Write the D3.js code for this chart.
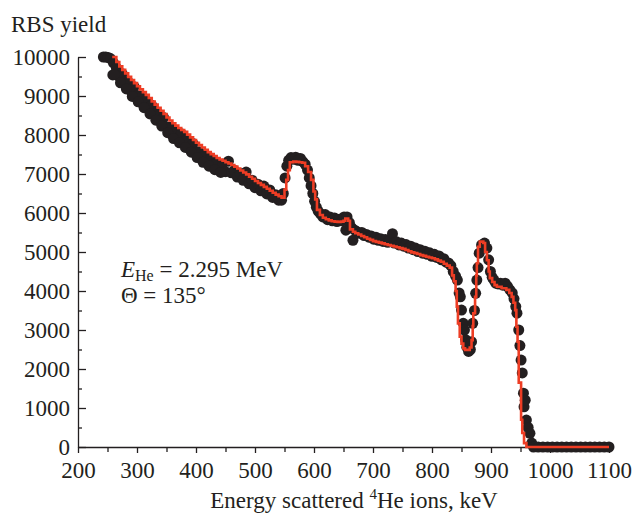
<!DOCTYPE html>
<html>
<head>
<meta charset="utf-8">
<title>RBS spectrum</title>
<script src="https://d3js.org/d3.v7.min.js"></script>
<style>
  body { margin: 0; background: #fff; }
  text { font-family: "Liberation Serif", "Times New Roman", serif; fill: #231f20; }
</style>
</head>
<body>
<svg width="635" height="514"></svg>
<script>
// tick values
var xTicks = [200, 300, 400, 500, 600, 700, 800, 900, 1000, 1100];
var xMinor = [250, 350, 450, 550, 650, 750, 850, 950, 1050];
var yTicks = [0, 1000, 2000, 3000, 4000, 5000, 6000, 7000, 8000, 9000, 10000];
var yMinor = [500, 1500, 2500, 3500, 4500, 5500, 6500, 7500, 8500, 9500];

// measured RBS yield (black dots): [energy keV, counts]
var measured = [
  [243,10000],[247,10000],[251,9990],[255,9960],[259,9540],[260,9850],
  [265,9720],[270,9500],[275,9570],[280,9360],[285,9360],[290,9130],[295,9240],[300,9010],
  [305,9000],[310,8800],[315,8880],[320,8690],[325,8760],[330,8560],[335,8570],[340,8340],
  [345,8450],[350,8210],[355,8200],[360,8000],[365,8090],[370,7920],[375,8030],[380,7860],
  [385,7880],[390,7660],[395,7780],[400,7560],[405,7570],[410,7380],[415,7470],[420,7300],
  [425,7410],[430,7240],[435,7280],[440,7090],[445,7250],[450,7060],[455,7330],[460,7030],
  [465,7090],[470,6920],[475,7010],[480,6840],[485,7050],[490,6750],[495,6840],[500,6650],
  [505,6740],[510,6570],[515,6690],[520,6490],[525,6590],[530,6400],[535,6470],[540,6330],
  [262,9550],[272,9340],[282,9180],[292,8990],[302,8850],[312,8700],[322,8540],[332,8380],
  [342,8230],[352,8060],[362,7910],[372,7800],[382,7680],[392,7560],[402,7420],[412,7300],
  [422,7200],[432,7110],[442,7040],
  [545,6330],[548,6500],[551,6900],[554,7200],[557,7350],[561,7420],[565,7380],[569,7430],
  [573,7350],[577,7400],[581,7320],[585,7250],[589,7100],[592,6900],[595,6700],[598,6500],
  [601,6300],[604,6150],[607,6050],[611,5980],[615,5900],[619,5960],[623,5830],[627,5900],
  [631,5800],[635,5870],[639,5780],[643,5840],[647,5800],[651,5900],[654,5560],[656,5900],
  [660,5750],[664,5620],[666,5300],[669,5560],[673,5520],[677,5480],[681,5500],[685,5420],
  [689,5450],[693,5380],[697,5410],[701,5330],[705,5380],[709,5300],[713,5340],[717,5270],
  [721,5320],[725,5250],[729,5300],[733,5470],[736,5230],[740,5260],[744,5180],[748,5230],
  [752,5150],[756,5190],[760,5100],[764,5150],[768,5060],[772,5100],[776,5010],[780,5060],
  [784,4970],[788,5020],[792,4940],[796,4980],[800,4890],[804,4940],[808,4860],[812,4900],
  [816,4800],[820,4830],[824,4740],[828,4720],[832,4650],[836,4500],[840,4380],[843,4280],
  [846,3950],[848,3850],[850,3510],[853,3170],[855,3000],[857,2750],[859,2560],[862,2450],
  [865,2500],[867,2700],[869,3170],[872,3500],[874,3940],[876,4280],[878,4600],[880,4970],
  [884,5180],[889,5230],[893,5100],[896,4800],[899,4500],[902,4350],[905,4280],[908,4200],
  [912,4180],[916,4200],[920,4150],[924,4200],[928,4120],[932,4030],[936,3950],[939,3800],
  [942,3600],[944,3430],[947,3000],[949,2600],[951,2230],[953,1900],[955,1380],[956,1030],
  [958,1200],[960,690],[963,500],[966,350],[969,100],
  [972,0],[980,0],[988,0],[996,0],[1004,0],[1012,0],[1020,0],[1028,0],[1036,0],[1044,0],
  [1052,0],[1060,0],[1068,0],[1076,0],[1084,0],[1092,0],[1100,0]
];

// simulated spectrum (red step line): [energy keV, counts]
var simulated = [
  [258,10000],[265,9870],[270,9760],[275,9670],[280,9580],[285,9490],[290,9410],[295,9330],
  [300,9250],[305,9170],[310,9100],[315,9030],[320,8950],[325,8860],[330,8780],[335,8700],
  [340,8620],[345,8540],[350,8450],[355,8370],[360,8300],[365,8240],[370,8180],[375,8130],
  [380,8080],[385,8010],[390,7940],[395,7870],[400,7800],[405,7740],[410,7680],[415,7620],
  [420,7560],[425,7510],[430,7460],[435,7410],[440,7370],[445,7340],[450,7300],[455,7270],
  [460,7230],[465,7190],[470,7140],[475,7090],[480,7040],[485,6990],[490,6930],[495,6880],
  [500,6820],[505,6770],[510,6720],[515,6670],[520,6620],[525,6570],[530,6520],[535,6470],
  [540,6430],[545,6390],[550,6600],[553,6850],[556,7100],[559,7300],[565,7320],[570,7310],
  [575,7300],[580,7290],[585,7200],[590,7050],[595,6850],[599,6550],[602,6350],[605,6080],
  [610,5950],[615,5880],[620,5840],[625,5810],[630,5790],[635,5780],[640,5770],[645,5780],
  [650,5800],[653,5860],[658,5800],[661,5580],[666,5520],[670,5480],[675,5450],[680,5410],
  [685,5380],[690,5340],[695,5310],[700,5280],[705,5260],[710,5240],[715,5220],[720,5200],
  [725,5180],[730,5160],[735,5140],[740,5120],[745,5100],[750,5080],[755,5050],[760,5020],
  [765,4990],[770,4970],[775,4950],[780,4920],[785,4900],[790,4880],[795,4860],[800,4840],
  [805,4810],[810,4780],[815,4750],[820,4700],[825,4650],[830,4600],[834,4400],[837,4250],
  [840,4000],[842,3600],[844,3170],[847,2830],[850,2650],[853,2530],[856,2490],[864,2550],
  [867,2740],[869,3100],[870,3430],[873,3850],[875,4400],[876,4710],[878,5135],[881,5265],
  [887,5230],[890,5000],[893,4790],[896,4500],[898,4330],[902,4230],[906,4150],[910,4110],
  [918,4070],[926,4030],[931,3950],[935,3850],[938,3700],[941,3510],[943,3085],[945,2700],
  [947,1650],[951,700],[953,360],[956,100],[960,0],[1100,0]
];

var svg = d3.select("svg");
var ink = "#231f20";

//scales
var x = d3.scaleLinear().domain([200, 1100]).range([78, 609]);
var y = d3.scaleLinear().domain([0, 10000]).range([447, 57]);

//x axis, ticks pointing down
svg.append("g")
    .attr("transform", "translate(0," + y(0) + ")")
    .call(d3.axisBottom(x).tickValues(xTicks).tickSize(6).tickSizeOuter(0)
      .tickPadding(9).tickFormat(d3.format("d")));
svg.append("g")
    .attr("transform", "translate(0," + y(0) + ")")
    .call(d3.axisBottom(x).tickValues(xMinor).tickSize(5).tickFormat(""))
    .select(".domain").remove();

//y axis, ticks pointing in
svg.append("g")
    .attr("transform", "translate(" + x(200) + ",0)")
    .call(d3.axisLeft(y).tickValues(yTicks).tickSize(-8).tickSizeOuter(0)
      .tickPadding(8).tickFormat(d3.format("d")));
svg.append("g")
    .attr("transform", "translate(" + x(200) + ",0)")
    .call(d3.axisLeft(y).tickValues(yMinor).tickSize(-4).tickFormat(""))
    .select(".domain").remove();

svg.selectAll(".domain, .tick line").attr("stroke", ink).attr("stroke-width", 1.3);
svg.selectAll(".tick text")
    .attr("fill", ink)
    .style("font-family", '"Liberation Serif", serif')
    .style("font-size", "23px");

//measured points
svg.append("g").selectAll("circle")
    .data(measured)
  .enter().append("circle")
    .attr("cx", function(d) { return x(d[0]); })
    .attr("cy", function(d) { return y(d[1]); })
    .attr("r", 5.5)
    .attr("fill", ink);

//simulation
var line = d3.line()
    .x(function(d) { return x(d[0]); })
    .y(function(d) { return y(d[1]); })
    .curve(d3.curveStepAfter);

svg.append("path")
    .datum(simulated)
    .attr("d", line)
    .attr("fill", "none")
    .attr("stroke", "#ee3d24")
    .attr("stroke-width", 2.6);

//labels
svg.append("text")
    .attr("x", 11).attr("y", 32)
    .style("font-size", "23px")
    .text("RBS yield");

var title = svg.append("text")
    .attr("x", 354).attr("y", 508)
    .attr("text-anchor", "middle")
    .style("font-size", "23px");
title.append("tspan").text("Energy scattered ");
title.append("tspan").attr("dy", -9).style("font-size", "15px").text("4");
title.append("tspan").attr("dy", 9).text("He ions, keV");

var ann = svg.append("text")
    .attr("x", 121).attr("y", 277)
    .style("font-size", "23px");
ann.append("tspan").style("font-style", "italic").text("E");
ann.append("tspan").attr("dy", 4).style("font-size", "16px").text("He");
ann.append("tspan").attr("dy", -4).text(" = 2.295 MeV");

svg.append("text")
    .attr("x", 121).attr("y", 303)
    .style("font-size", "23px")
    .text("\u0398 = 135\u00b0");
</script>
</body>
</html>
